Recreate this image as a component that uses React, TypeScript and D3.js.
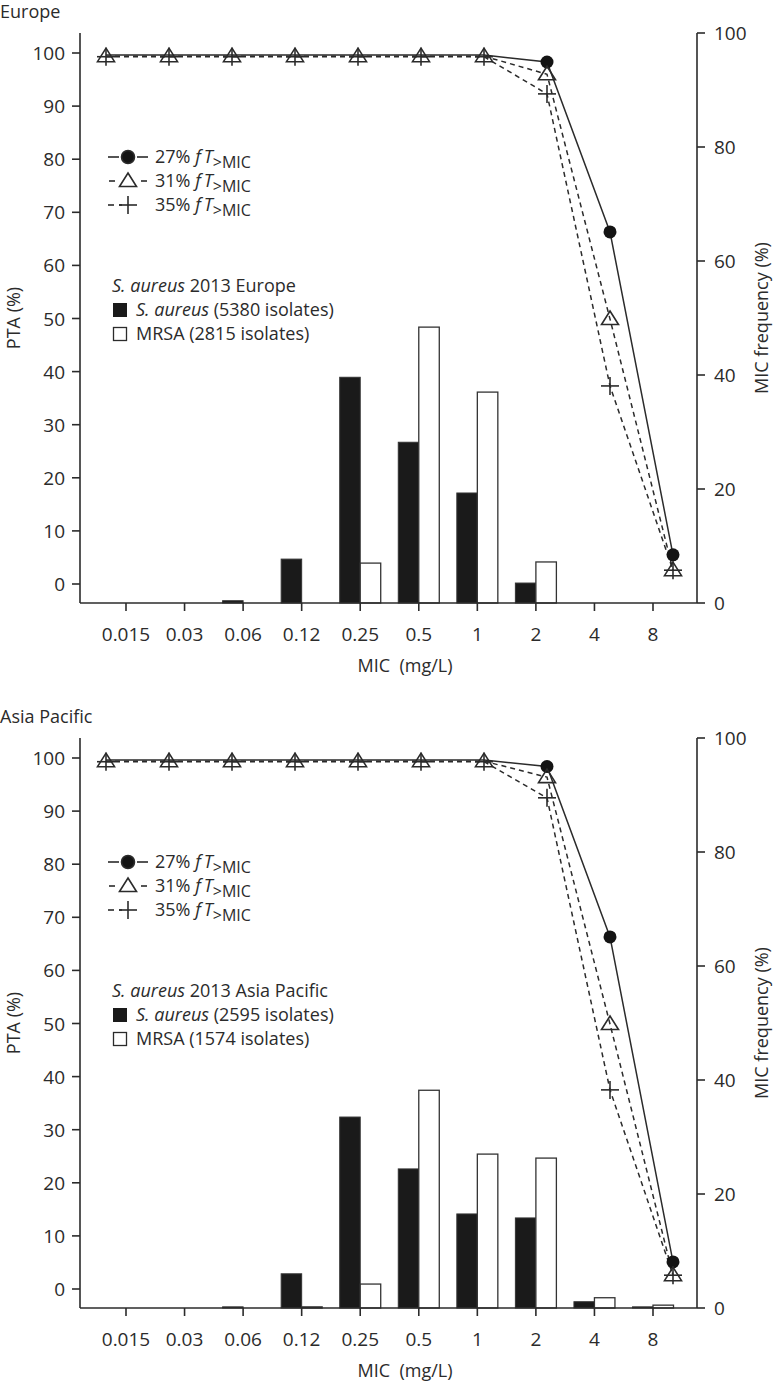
import React from "react";
import * as d3 from "d3";

const mics = ["0.015", "0.03", "0.06", "0.12", "0.25", "0.5", "1", "2", "4", "8"];
const leftTicks = [0, 10, 20, 30, 40, 50, 60, 70, 80, 90, 100];
const rightTicks = [0, 20, 40, 60, 80, 100];

// Europe
const pta27Eu = [99.6, 99.6, 99.6, 99.6, 99.6, 99.6, 99.6, 98.3, 66.3, 5.5];
const pta31Eu = [99.4, 99.4, 99.4, 99.4, 99.4, 99.4, 99.4, 96.0, 49.9, 2.6];
const pta35Eu = [99.3, 99.3, 99.3, 99.3, 99.3, 99.3, 99.3, 92.3, 37.3, 2.6];
const saEu = [0, 0, 0.4, 7.7, 39.6, 28.2, 19.3, 3.5, 0, 0];
const mrsaEu = [0, 0, 0, 0, 7.0, 48.4, 37.0, 7.2, 0, 0];

// Asia Pacific
const pta27Ap = [99.6, 99.6, 99.6, 99.6, 99.6, 99.6, 99.6, 98.4, 66.3, 5.1];
const pta31Ap = [99.4, 99.4, 99.4, 99.4, 99.4, 99.4, 99.4, 96.4, 49.9, 2.6];
const pta35Ap = [99.3, 99.3, 99.3, 99.3, 99.3, 99.3, 99.3, 92.5, 37.5, 2.6];
const saAp = [0, 0, 0.2, 6.0, 33.5, 24.4, 16.5, 15.8, 1.1, 0.2];
const mrsaAp = [0, 0, 0, 0.2, 4.2, 38.2, 27.0, 26.3, 1.8, 0.5];

const FONT = "'Open Sans', 'Noto Sans', sans-serif";
const INK = "#2b2b2b";

function FT() {
  return (
    <>
      <tspan fontStyle="italic">f</tspan>
      <tspan fontStyle="italic" dx="3">T</tspan>
      <tspan fontSize="16" dy="5">&gt;MIC</tspan>
    </>
  );
}

function Marker({ kind, x, y }: { kind: string; x: number; y: number }) {
  if (kind === "circle") return <circle cx={x} cy={y} r={6.5} fill="#141414" />;
  if (kind === "tri")
    return (
      <polygon
        points={`${x},${y - 8} ${x + 8.5},${y + 5.5} ${x - 8.5},${y + 5.5}`}
        fill="none"
        stroke={INK}
        strokeWidth={1.6}
      />
    );
  return (
    <g stroke={INK} strokeWidth={1.6}>
      <line x1={x - 9} x2={x + 9} y1={y} y2={y} />
      <line x1={x} x2={x} y1={y - 9} y2={y + 9} />
    </g>
  );
}

function Panel({
  oy,
  title,
  legendTitle,
  saLabel,
  mrsaLabel,
  p27,
  p31,
  p35,
  sa,
  mrsa,
}: {
  oy: number;
  title: string;
  legendTitle: string;
  saLabel: string;
  mrsaLabel: string;
  p27: number[];
  p31: number[];
  p35: number[];
  sa: number[];
  mrsa: number[];
}) {
  const axL = 80;
  const axR = 697;
  const top = 33;
  const bottom = 603;
  const yL = d3.scaleLinear().domain([0, 100]).range([584, 53]);
  const yR = d3.scaleLinear().domain([0, 100]).range([bottom, top]);
  const xBar = d3.scalePoint<string>().domain(mics).range([126, 653]);
  const xLine = d3.scalePoint<string>().domain(mics).range([106, 673]);
  const bw = 20.5;

  const lineGen = d3
    .line<number>()
    .x((_, i) => xLine(mics[i]) as number)
    .y((d) => yL(d));

  const series = [
    { data: p27, kind: "circle", dash: undefined as string | undefined, label: "27%" },
    { data: p31, kind: "tri", dash: "5,4", label: "31%" },
    { data: p35, kind: "cross", dash: "5,4", label: "35%" },
  ];

  return (
    <g transform={`translate(0,${oy})`} fontFamily={FONT} fill={INK}>
      <text x={0} y={18} fontSize={18}>
        {title}
      </text>

      {/* bars */}
      {mics.map((m, i) => (
        <g key={m}>
          {sa[i] > 0 && (
            <rect
              x={(xBar(m) as number) - bw}
              y={yR(sa[i])}
              width={bw}
              height={bottom - yR(sa[i])}
              fill="#1a1a1a"
              stroke="#333"
              strokeWidth={1}
            />
          )}
          {mrsa[i] > 0 && (
            <rect
              x={xBar(m) as number}
              y={yR(mrsa[i])}
              width={bw}
              height={bottom - yR(mrsa[i])}
              fill="#fff"
              stroke="#333"
              strokeWidth={1.3}
            />
          )}
        </g>
      ))}

      {/* axes */}
      <g stroke={INK} strokeWidth={1.6} fill="none">
        <line x1={axL} x2={axL} y1={top} y2={bottom} />
        <line x1={axR} x2={axR} y1={top} y2={bottom} />
        <line x1={axL} x2={axR} y1={bottom} y2={bottom} />
        {leftTicks.map((t) => (
          <line key={"l" + t} x1={axL - 8} x2={axL} y1={yL(t)} y2={yL(t)} />
        ))}
        {rightTicks.map((t) => (
          <line key={"r" + t} x1={axR} x2={axR + 8} y1={yR(t)} y2={yR(t)} />
        ))}
        {mics.map((m) => (
          <line key={"x" + m} x1={xBar(m)} x2={xBar(m)} y1={bottom} y2={bottom + 8} />
        ))}
      </g>
      {leftTicks.map((t) => (
        <text key={"lt" + t} x={65} y={yL(t) + 7} fontSize={19} textAnchor="end">
          {t}
        </text>
      ))}
      {rightTicks.map((t) => (
        <text key={"rt" + t} x={714} y={yR(t) + 7} fontSize={19}>
          {t}
        </text>
      ))}
      {mics.map((m) => (
        <text key={"xt" + m} x={xBar(m)} y={641} fontSize={19} textAnchor="middle">
          {m}
        </text>
      ))}
      <text x={405} y={672} fontSize={18} textAnchor="middle" style={{ whiteSpace: "pre" }}>
        {"MIC  (mg/L)"}
      </text>
      <text transform={`translate(20,318) rotate(-90)`} fontSize={18} textAnchor="middle">
        PTA (%)
      </text>
      <text transform={`translate(768,318) rotate(-90)`} fontSize={18} textAnchor="middle">
        MIC frequency (%)
      </text>

      {/* lines */}
      {series.map((s, k) => (
        <path
          key={"p" + k}
          d={lineGen(s.data) as string}
          fill="none"
          stroke={INK}
          strokeWidth={1.5}
          strokeDasharray={s.dash}
        />
      ))}
      {series.map((s, k) =>
        s.data.map((v, i) => {
          // where the 27% marker coincides with the 31% triangle it is hidden behind it
          if (k === 0 && Math.abs(v - p31[i]) < 1) return null;
          return (
            <Marker key={"m" + k + "-" + i} kind={s.kind} x={xLine(mics[i]) as number} y={yL(v)} />
          );
        })
      )}

      {/* line legend */}
      {series.map((s, k) => {
        const cy = 157 + k * 24;
        const segs = k === 0 ? [[108, 119], [137, 148]] : k === 1 ? [[109, 115], [141, 147]] : [[108, 114], [119, 122]];
        return (
          <g key={"lg" + k} stroke={INK} strokeWidth={1.6}>
            {segs.map((sg, j) => (
              <line key={j} x1={sg[0]} x2={sg[1]} y1={cy} y2={cy} />
            ))}
            <Marker kind={s.kind} x={128} y={cy} />
            <text x={155} y={cy + 6} fontSize={18} stroke="none">
              {s.label} <FT />
            </text>
          </g>
        );
      })}

      {/* bar legend */}
      <text x={112} y={292} fontSize={18}>
        <tspan fontStyle="italic">S. aureus</tspan> {legendTitle}
      </text>
      <rect x={113} y={303} width={14} height={14} fill="#1a1a1a" />
      <text x={136} y={316} fontSize={18}>
        <tspan fontStyle="italic">S. aureus</tspan> {saLabel}
      </text>
      <rect x={113.5} y={327.5} width={13} height={13} fill="#fff" stroke={INK} strokeWidth={1.3} />
      <text x={136} y={340} fontSize={18}>
        {mrsaLabel}
      </text>
    </g>
  );
}

export default function App() {
  return (
    <svg
      width={776}
      height={1384}
      style={{ position: "absolute", left: 0, top: 0, background: "#fff" }}
    >
      <rect width={776} height={1384} fill="#fff" />
      <Panel
        oy={0}
        title="Europe"
        legendTitle="2013 Europe"
        saLabel="(5380 isolates)"
        mrsaLabel="MRSA (2815 isolates)"
        p27={pta27Eu}
        p31={pta31Eu}
        p35={pta35Eu}
        sa={saEu}
        mrsa={mrsaEu}
      />
      <Panel
        oy={705}
        title="Asia Pacific"
        legendTitle="2013 Asia Pacific"
        saLabel="(2595 isolates)"
        mrsaLabel="MRSA (1574 isolates)"
        p27={pta27Ap}
        p31={pta31Ap}
        p35={pta35Ap}
        sa={saAp}
        mrsa={mrsaAp}
      />
    </svg>
  );
}
